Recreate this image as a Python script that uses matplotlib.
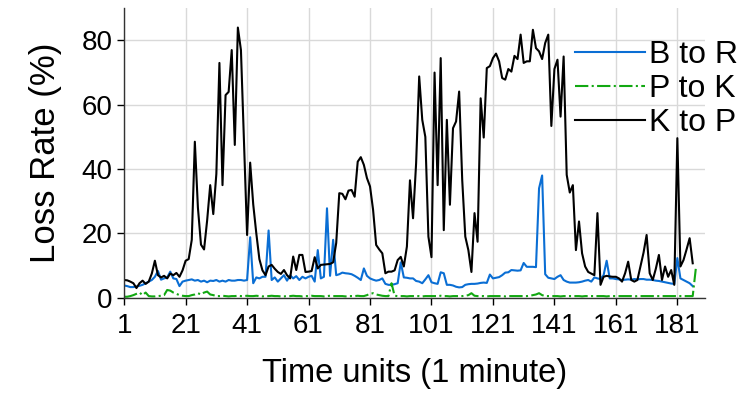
import numpy as np
import matplotlib
matplotlib.use("Agg")
import matplotlib.pyplot as plt

plt.rcParams['font.family'] = ['Liberation Sans', 'DejaVu Sans']

time_units = list(range(1, 188))

k_to_p = [5.5, 5.4, 5.0, 4.5, 3.0, 4.5, 5.3, 4.3, 5.0, 7.5,
          11.5, 7.0, 6.3, 6.8, 6.0, 7.5, 7.0, 7.7, 6.5, 8.5,
          11.5, 12.0, 18.0, 48.5, 28.0, 16.5, 15.0, 24.0, 35.0, 26.0,
          38.5, 73.0, 35.0, 63.0, 64.0, 77.0, 47.5, 84.0, 77.0, 48.0,
          19.5, 42.0, 29.0, 20.0, 12.0, 8.5, 7.0, 9.7, 10.2, 9.0,
          8.0, 7.4, 8.6, 7.0, 6.0, 12.8, 8.6, 13.3, 13.3, 8.0,
          8.1, 8.3, 12.6, 9.1, 10.2, 10.3, 10.4, 10.5, 11.0, 17.0,
          32.5, 32.3, 30.6, 33.3, 33.5, 31.4, 42.3, 43.7, 41.3, 37.2,
          34.6, 27.3, 16.4, 15.0, 13.8, 7.6, 8.1, 8.1, 8.5, 11.7,
          12.7, 9.7, 15.9, 36.5, 24.7, 41.8, 68.8, 55.3, 50.0, 19.0,
          12.6, 70.0, 35.0, 74.5, 21.0, 55.3, 28.9, 52.7, 54.8, 64.1,
          36.6, 19.0, 14.8, 8.0, 26.3, 17.4, 62.0, 49.8, 71.4, 72.0,
          74.5, 75.9, 73.5, 68.3, 67.8, 71.1, 70.3, 75.2, 74.2, 81.8,
          73.0, 73.5, 73.5, 83.3, 77.6, 76.6, 74.2, 79.2, 81.8, 53.4,
          71.1, 74.0, 56.3, 75.0, 38.2, 32.7, 35.0, 14.8, 23.7, 13.8,
          9.7, 8.0, 7.5, 7.0, 26.3, 4.0, 6.5, 6.8, 6.6, 6.5,
          6.5, 6.0, 5.0, 7.6, 11.2, 5.5, 5.0, 5.5, 9.7, 14.0,
          19.5, 7.6, 5.5, 9.0, 13.3, 5.5, 9.7, 6.5, 8.6, 4.0,
          49.6, 9.7, 11.7, 15.0, 18.5, 10.7]

b_to_r = [3.8, 3.6, 3.3, 3.3, 3.5, 3.7, 4.0, 4.5, 5.0, 5.5,
          6.5, 8.3, 5.6, 6.0, 6.3, 8.1, 6.0, 5.8, 3.6, 5.0,
          5.3, 5.5, 5.7, 5.3, 5.5, 5.0, 5.3, 4.8, 5.3, 5.2,
          5.5, 5.0, 5.3, 5.0, 5.5, 5.3, 5.3, 5.5, 5.5, 5.3,
          5.5, 18.8, 4.5, 6.3, 6.0, 6.5, 6.5, 20.9, 5.5, 6.3,
          5.0, 6.0, 7.0, 5.3, 7.0, 6.0, 6.7, 5.5, 6.5, 6.0,
          6.5, 6.8, 5.0, 14.8, 6.0, 6.5, 27.8, 6.8, 18.0, 7.0,
          7.3, 7.8, 7.6, 7.5, 7.3, 6.8, 6.2, 5.5, 9.1, 6.8,
          6.0, 5.6, 5.3, 5.5, 6.0, 4.3, 4.0, 4.0, 4.2, 4.5,
          11.0, 6.3, 6.2, 6.0, 6.0, 5.2, 5.0, 4.5, 5.7, 7.0,
          4.8, 4.5, 4.3, 7.9, 7.6, 4.0, 4.0, 3.8, 3.4, 3.2,
          3.3, 4.0, 4.2, 4.3, 4.3, 4.4, 4.6, 4.7, 4.6, 7.2,
          6.0, 6.2, 6.4, 7.0, 7.8, 7.9, 8.6, 8.5, 8.4, 8.5,
          10.8, 9.6, 9.6, 9.6, 9.5, 34.0, 38.0, 7.3, 6.2, 6.0,
          5.8, 6.5, 7.0, 5.5, 5.0, 4.7, 4.7, 4.7, 4.8, 5.0,
          5.3, 5.5, 5.0, 6.3, 6.0, 5.8, 7.0, 11.5, 6.0, 6.0,
          5.8, 5.7, 5.5, 5.6, 5.7, 5.6, 5.8, 5.7, 5.8, 5.8,
          5.6, 5.6, 5.5, 5.3, 5.2, 5.0, 4.8, 4.6, 4.4, 4.3,
          12.3, 6.0, 5.5, 5.0, 4.5, 3.6]

p_to_k = [0.3, 0.3, 0.5, 0.8, 1.2, 1.6, 0.8, 1.6, 0.5, 0.4,
          0.4, 0.5, 0.6, 0.8, 2.4, 2.2, 1.6, 1.2, 0.8, 0.6,
          0.5, 0.5, 0.8, 1.0, 1.4, 1.0, 1.6, 1.9, 1.0, 0.8,
          0.5, 0.5, 0.6, 0.5, 0.4, 0.5, 0.5, 0.6, 0.5, 0.5,
          0.6, 0.5, 0.5, 0.6, 0.5, 0.4, 0.5, 0.5, 0.6, 0.5,
          0.5, 0.4, 0.4, 0.5, 0.5, 0.6, 0.5, 0.5, 0.4, 0.5,
          0.5, 0.6, 0.5, 0.5, 0.5, 0.4, 0.5, 0.6, 0.5, 0.5,
          0.5, 0.5, 0.4, 0.5, 0.5, 0.5, 0.6, 0.5, 0.5, 0.8,
          1.2, 1.4, 1.0, 0.8, 0.6, 0.5, 0.5, 4.5, 0.6, 0.5,
          0.5, 0.5, 0.4, 0.5, 0.5, 0.5, 0.5, 0.4, 0.5, 0.5,
          0.5, 0.5, 0.5, 0.6, 0.5, 0.5, 0.4, 0.5, 0.5, 0.5,
          0.5, 0.6, 0.8, 1.4, 0.6, 0.5, 0.5, 0.5, 0.4, 0.5,
          0.5, 0.5, 0.5, 0.5, 0.4, 0.5, 0.5, 0.5, 0.5, 0.5,
          0.5, 0.5, 0.6, 0.8, 1.0, 1.4, 0.8, 0.5, 0.5, 0.5,
          0.5, 0.5, 0.4, 0.5, 0.5, 0.5, 0.5, 0.5, 0.5, 0.4,
          0.5, 0.5, 0.5, 0.5, 0.5, 0.5, 0.5, 0.4, 0.5, 0.5,
          0.5, 0.5, 0.5, 0.5, 0.5, 0.5, 0.4, 0.5, 0.5, 0.5,
          0.5, 0.5, 0.5, 0.5, 0.5, 0.5, 0.5, 0.5, 0.5, 0.5,
          0.5, 0.5, 0.5, 0.5, 0.5, 0.5, 9.0]

x_ticks = [1, 21, 41, 61, 81, 101, 121, 141, 161, 181]
y_ticks = [0, 20, 40, 60, 80]

fig = plt.figure(figsize=(7.39, 3.93), dpi=100)
ax = fig.add_axes([0.168, 0.2425, 0.786, 0.7365])

ax.plot(time_units[:len(b_to_r)], b_to_r, color='#0a6ed4', lw=1.5, label='B to R')
ax.plot(time_units[:len(p_to_k)], p_to_k, color='#12a812', lw=1.5, ls='-.', label='P to K')
ax.plot(time_units[:len(k_to_p)], k_to_p, color='black', lw=1.5, label='K to P')

ax.set_xlim(1, 190)
ax.set_ylim(0, 90)
ax.set_xticks(x_ticks)
ax.set_yticks(y_ticks)
ax.grid(True, color='#d9d9d9', lw=1.0)
ax.set_axisbelow(True)
for s in ['top', 'right']:
    ax.spines[s].set_visible(False)
for s in ['left', 'bottom']:
    ax.spines[s].set_color('#333333')
    ax.spines[s].set_linewidth(1.0)
ax.tick_params(axis='both', direction='out', length=5, width=1.0, labelsize=20, colors='black')
ax.tick_params(axis='x', pad=6)
ax.set_xlabel('Time units (1 minute)', fontsize=23.5, labelpad=14)
ax.set_ylabel('Loss Rate (%)', fontsize=25, labelpad=14)

leg = ax.legend(loc='upper right', bbox_to_anchor=(1.016, 0.93), bbox_transform=fig.transFigure,
                frameon=False, fontsize=23, handlelength=2.2, handletextpad=0.12,
                labelspacing=0.12, borderaxespad=0)

fig.savefig('out.png', dpi=100)
